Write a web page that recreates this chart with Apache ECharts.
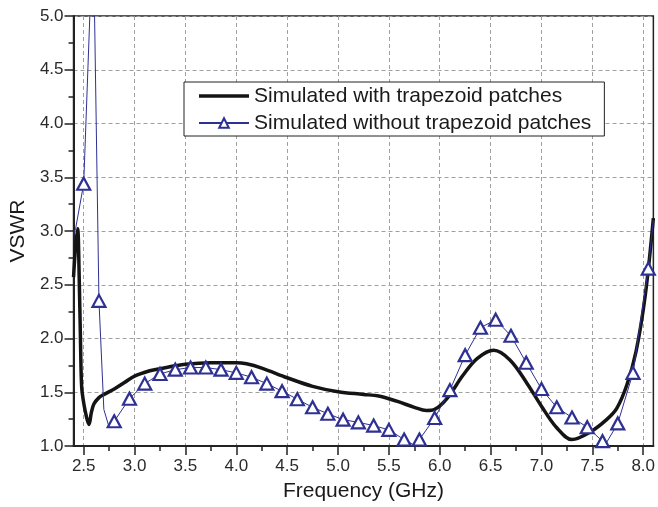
<!DOCTYPE html>
<html>
<head>
<meta charset="utf-8">
<script src="https://cdn.jsdelivr.net/npm/echarts@6/dist/echarts.min.js"></script>
<style>
html,body{margin:0;padding:0;background:#fff;}
#chart{width:658px;height:507px;}
</style>
</head>
<body>
<div id="chart"></div>
<script>
// ---- data ----
const xMajorTicks = [2.5, 3.0, 3.5, 4.0, 4.5, 5.0, 5.5, 6.0, 6.5, 7.0, 7.5, 8.0];
const xMinorTicks = [2.75, 3.25, 3.75, 4.25, 4.75, 5.25, 5.75, 6.25, 6.75, 7.25, 7.75];

const withFreq = [2.40, 2.42, 2.44, 2.455, 2.47, 2.48, 2.50, 2.53, 2.552, 2.575, 2.60, 2.65, 2.70, 2.80, 2.90, 3.00, 3.15, 3.25, 3.50, 3.75, 4.00, 4.10, 4.25, 4.50, 4.75, 5.00, 5.25, 5.40, 5.50, 5.60, 5.75, 5.87, 5.95, 6.07, 6.23, 6.37, 6.53, 6.69, 6.86, 7.00, 7.15, 7.30, 7.48, 7.64, 7.74, 7.84, 7.93, 8.02, 8.10];
const withVSWR = [2.57, 2.85, 3.02, 2.60, 1.90, 1.55, 1.40, 1.26, 1.20, 1.31, 1.39, 1.45, 1.48, 1.53, 1.59, 1.65, 1.70, 1.72, 1.76, 1.775, 1.775, 1.765, 1.725, 1.635, 1.555, 1.505, 1.48, 1.465, 1.44, 1.41, 1.36, 1.33, 1.34, 1.44, 1.66, 1.815, 1.89, 1.80, 1.58, 1.37, 1.17, 1.06, 1.13, 1.245, 1.35, 1.57, 1.88, 2.40, 3.12];

// marked points (triangles) of the curve without trapezoid patches
const withoutMarkFreq = [2.50, 2.65, 2.80, 2.95, 3.10, 3.25, 3.40, 3.55, 3.70, 3.85, 4.00, 4.15, 4.30, 4.45, 4.60, 4.75, 4.90, 5.05, 5.20, 5.35, 5.50, 5.65, 5.80, 5.95, 6.10, 6.25, 6.40, 6.55, 6.70, 6.85, 7.00, 7.15, 7.30, 7.45, 7.60, 7.75, 7.90, 8.05];
const withoutMarkVSWR = [3.44, 2.35, 1.23, 1.44, 1.58, 1.67, 1.71, 1.73, 1.73, 1.71, 1.68, 1.64, 1.58, 1.51, 1.435, 1.36, 1.30, 1.245, 1.22, 1.19, 1.15, 1.06, 1.06, 1.26, 1.52, 1.845, 2.10, 2.175, 2.025, 1.775, 1.53, 1.36, 1.265, 1.175, 1.045, 1.21, 1.68, 2.65];
// intermediate (unmarked) points of the same curve
const withoutExtraFreq = [2.40, 2.42, 2.593, 2.698, 2.745, 5.745, 7.626, 8.10];
const withoutExtraVSWR = [2.97, 3.02, 5.85, 1.34, 1.19, 1.01, 1.01, 3.10];

const legendNames = ['Simulated with trapezoid patches', 'Simulated without trapezoid patches'];

// ---- build ----
const blackData = withFreq.map((f, i) => [f, withVSWR[i]]);
const blueData = [];
withoutMarkFreq.forEach((f, i) => blueData.push({ value: [f, withoutMarkVSWR[i]] }));
withoutExtraFreq.forEach((f, i) => blueData.push({ value: [f, withoutExtraVSWR[i]], symbol: 'none' }));
blueData.sort((a, b) => a.value[0] - b.value[0]);

const BLUE = '#2e3192';
const BLACK = '#141414';
const FONT = 'Liberation Sans, Arial, sans-serif';

const chart = echarts.init(document.getElementById('chart'), null, { renderer: 'canvas' });
chart.setOption({
  animation: false,
  backgroundColor: '#fff',
  grid: { left: 73, right: 2, top: 16, bottom: 59, show: true, borderColor: '#222', borderWidth: 1.5, backgroundColor: 'transparent' },
  legend: {
    left: 184, top: 82,
    orient: 'vertical',
    data: [
      { name: legendNames[0], icon: 'path://M0,0 L50,0 L50,3.6 L0,3.6 Z', itemStyle: { color: BLACK } },
      { name: legendNames[1] }
    ],
    symbolKeepAspect: true,
    backgroundColor: '#fff',
    borderColor: '#222', borderWidth: 1,
    borderRadius: 0,
    padding: [3, 13, 2, 14],
    itemGap: 5,
    itemWidth: 50, itemHeight: 12,
    textStyle: { fontFamily: FONT, fontSize: 21, color: '#1a1a1a', lineHeight: 22 }
  },
  xAxis: [{
    type: 'value', min: 2.4, max: 8.1,
    name: 'Frequency (GHz)', nameLocation: 'middle', nameGap: 35,
    nameTextStyle: { fontFamily: FONT, fontSize: 21, color: '#1a1a1a' },
    axisLine: { show: true, onZero: false, lineStyle: { color: '#222', width: 2 } },
    axisTick: { show: true, inside: false, length: 9, customValues: xMajorTicks, lineStyle: { color: '#222', width: 1.5 } },
    axisLabel: { customValues: xMajorTicks, margin: 12, fontFamily: FONT, fontSize: 17, color: '#2a2a2a', formatter: v => v.toFixed(1) },
    splitLine: { show: true, lineStyle: { color: '#a0a0a0', type: [4, 3], width: 1 } }
  }, {
    type: 'value', min: 2.4, max: 8.1, position: 'bottom',
    axisLine: { show: false, onZero: false },
    axisTick: { show: true, inside: false, length: 5, customValues: xMinorTicks, lineStyle: { color: '#222', width: 1.5 } },
    axisLabel: { show: false },
    splitLine: { show: false }
  }],
  yAxis: {
    type: 'value', min: 1, max: 5, interval: 0.5,
    name: 'VSWR', nameLocation: 'middle', nameGap: 41,
    nameTextStyle: { fontFamily: FONT, fontSize: 21, color: '#1a1a1a' },
    axisLine: { show: true, onZero: false, lineStyle: { color: '#222', width: 2 } },
    axisTick: { show: true, inside: false, length: 9, lineStyle: { color: '#222', width: 1.5 } },
    minorTick: { show: true, splitNumber: 2, length: 5, lineStyle: { color: '#222', width: 1.5 } },
    axisLabel: { margin: 10, fontFamily: FONT, fontSize: 17, color: '#2a2a2a', formatter: v => v.toFixed(1) },
    splitLine: { show: true, lineStyle: { color: '#a0a0a0', type: [4, 3], width: 1 } }
  },
  series: [{
    name: legendNames[0],
    type: 'line',
    data: blackData,
    smooth: 0.35,
    symbol: 'none',
    clip: true,
    lineStyle: { color: BLACK, width: 3.5 },
    itemStyle: { color: BLACK },
    z: 3
  }, {
    name: legendNames[1],
    type: 'line',
    data: blueData,
    symbol: 'triangle',
    symbolSize: [13, 12],
    showAllSymbol: true,
    clip: true,
    lineStyle: { color: BLUE, width: 1 },
    itemStyle: { color: '#fff', borderColor: BLUE, borderWidth: 2.2 },
    z: 4
  }]
});
</script>
</body>
</html>
